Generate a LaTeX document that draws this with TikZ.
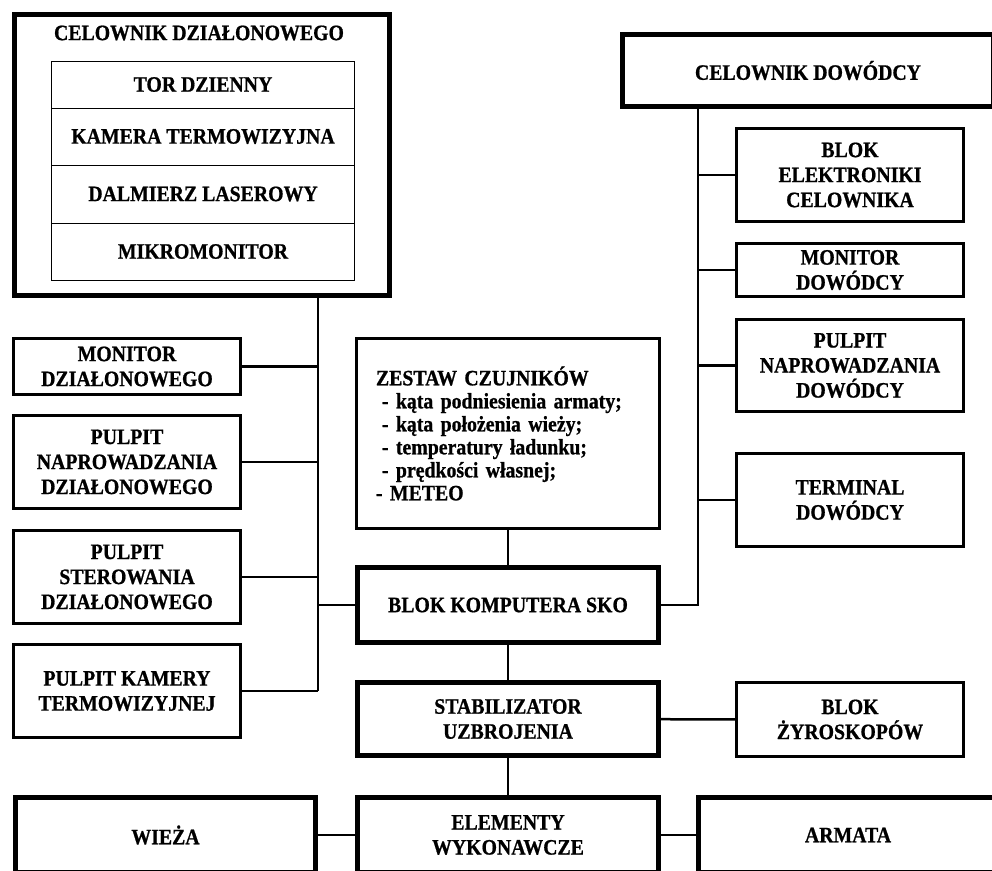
\documentclass[tikz,border=0pt]{standalone}
\usepackage{fontspec}
\setmainfont{Liberation Serif}[FakeStretch=0.9, BoldFeatures={FakeBold=0.8}]
\begin{document}
\begin{tikzpicture}[x=1pt, y=-1pt,
    heavy/.style ={rectangle, draw, line width=5pt, align=center, inner sep=0pt},
    block/.style ={rectangle, draw, line width=3.5pt, align=center, inner sep=0pt, minimum width=227pt},
    row/.style ={rectangle, draw, line width=1pt, inner sep=0pt, minimum width=303pt},
    wire/.style ={line width=2.5pt},
    font=\bfseries\fontsize{22}{25}\selectfont]
   \useasboundingbox (0,0) rectangle (992,870);
   \clip (0,0) rectangle (992,870);

   % celownik dzialonowego
   \node[heavy, minimum width=375pt, minimum height=281pt] (celdz) at (202,155) {};
   \node (celdzt) at (199,33) {CELOWNIK DZIAŁONOWEGO};
   \node[row, minimum height=47pt] (tor) at (203,84.5) {TOR DZIENNY};
   \node[row, minimum height=57pt] (kam) at (203,136.5) {KAMERA TERMOWIZYJNA};
   \node[row, minimum height=58pt] (dal) at (203,194) {DALMIERZ LASEROWY};
   \node[row, minimum height=57pt] (mik) at (203,251.5) {MIKROMONITOR};

   \node[block, minimum height=56pt] (mondz) at (127,366.5) {MONITOR\\DZIAŁONOWEGO};
   \node[block, minimum height=93pt] (pndz) at (127,462) {PULPIT\\NAPROWADZANIA\\DZIAŁONOWEGO};
   \node[block, minimum height=93pt] (psdz) at (127,577) {PULPIT\\STEROWANIA\\DZIAŁONOWEGO};
   \node[block, minimum height=93pt] (pkam) at (127,691) {PULPIT KAMERY\\TERMOWIZYJNEJ};

   % srodek
   \node[block, minimum width=303pt, minimum height=190pt, text width=264pt, align=left,
         font=\bfseries\fontsize{22}{23}\selectfont] (zestaw) at (508,433.5)
        {ZESTAW CZUJNIKÓW\\
         \hspace*{6pt}- kąta podniesienia armaty;\\
         \hspace*{6pt}- kąta położenia wieży;\\
         \hspace*{6pt}- temperatury ładunku;\\
         \hspace*{6pt}- prędkości własnej;\\
         - METEO};
   \node[heavy, minimum width=301pt, minimum height=75pt] (komp) at (508,605) {BLOK KOMPUTERA SKO};
   \node[heavy, minimum width=301pt, minimum height=73pt] (stab) at (508,719) {STABILIZATOR\\UZBROJENIA};
   \node[heavy, minimum width=301pt, minimum height=75pt] (elem) at (508,835) {ELEMENTY\\WYKONAWCZE};
   \node[heavy, minimum width=300pt, minimum height=75pt] (wieza) at (165.5,835) {WIEŻA};
   \node[heavy, minimum width=299pt, minimum height=75pt] (armata) at (848,835) {ARMATA};
   \node[block, minimum height=74pt] (zyro) at (850,719.5) {BLOK\\ŻYROSKOPÓW};

   % celownik dowodcy
   \node[heavy, minimum width=371pt, minimum height=72pt] (celdw) at (808,70.5) {CELOWNIK DOWÓDCY};
   \node[block, minimum height=93pt] (blel) at (850,175) {BLOK\\ELEKTRONIKI\\CELOWNIKA};
   \node[block, minimum height=53pt] (mondw) at (850,270) {MONITOR\\DOWÓDCY};
   \node[block, minimum height=92pt] (pndw) at (850,365.5) {PULPIT\\NAPROWADZANIA\\DOWÓDCY};
   \node[block, minimum height=93pt] (term) at (850,500) {TERMINAL\\DOWÓDCY};

   \coordinate (busl) at (318,691);
   \coordinate (busr) at (698,605);

   \draw[wire] (celdz.south -| busl) to (busl);
   \draw[wire] (mondz.east) to (mondz.east -| busl);
   \draw[wire] (pndz.east) to (pndz.east -| busl);
   \draw[wire] (psdz.east) to (psdz.east -| busl);
   \draw[wire] (pkam.east) to (busl);
   \draw[wire] (komp.west) to (komp.west -| busl);

   \draw[wire] (celdw.south -| busr) to (busr) to (komp.east);
   \draw[wire] (blel.west) to (blel.west -| busr);
   \draw[wire] (mondw.west) to (mondw.west -| busr);
   \draw[wire] (pndw.west) to (pndw.west -| busr);
   \draw[wire] (term.west) to (term.west -| busr);

   \draw[wire] (zestaw) to (komp);
   \draw[wire] (komp) to (stab);
   \draw[wire] (stab) to (elem);
   \draw[wire] (stab) to (zyro);
   \draw[wire] (wieza) to (elem);
   \draw[wire] (elem) to (armata);
 \end{tikzpicture}
\end{document}
